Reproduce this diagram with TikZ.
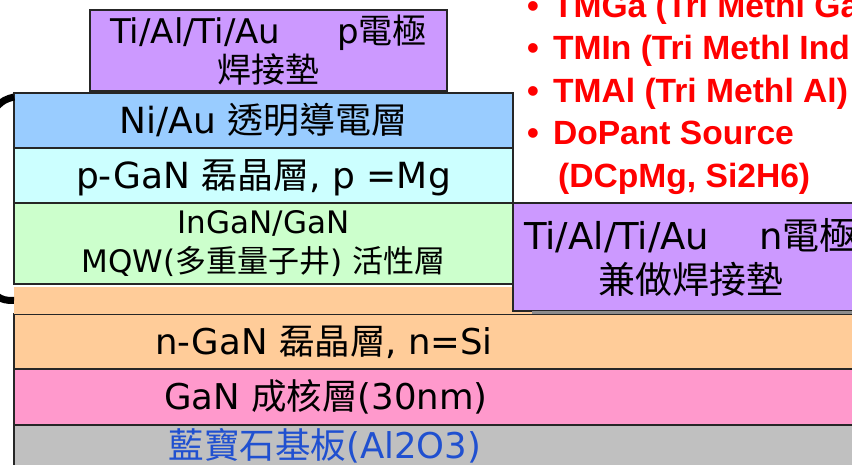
\documentclass[tikz,border=0pt]{standalone}
\usepackage{fontspec}
\setmainfont{DejaVu Sans}
\newfontfamily\cjk{Noto Sans CJK TC}
\newfontfamily\srcfont{Liberation Sans}
\usepackage{tikz}
\usetikzlibrary{positioning}
\usepackage{xcolor}
\definecolor{padviolet}{HTML}{CC99FF}
\definecolor{nialayer}{HTML}{99CCFF}
\definecolor{pganlayer}{HTML}{CCFFFF}
\definecolor{mqwlayer}{HTML}{CCFFCC}
\definecolor{nganlayer}{HTML}{FFCC99}
\definecolor{nuclayer}{HTML}{FF99CC}
\definecolor{sublayer}{HTML}{C0C0C0}
\definecolor{subtext}{HTML}{2050D0}
\definecolor{srcred}{HTML}{FF0000}

\begin{document}
\begin{tikzpicture}[x=1pt,y=1pt,node distance=0pt,
  layer/.style={rectangle,draw=black!85,line width=1.5pt,inner sep=0pt,outer sep=0pt},
  oneline/.style={text height=28.5pt,text depth=2.9pt},
  lbl/.style={inner sep=0pt,oneline,font=\fontsize{35.5}{40}\selectfont},
  src/.style={inner sep=0pt,anchor=base west,text=srcred,font=\srcfont\bfseries\fontsize{33.6}{40}\selectfont}]

  \useasboundingbox (0,0) rectangle (852,464);

  % wafer stack, bottom up
  \node[layer,fill=sublayer,minimum width=856pt,minimum height=42pt] (sub) at (442,18) {};
  \node[layer,fill=nuclayer,minimum width=856pt,minimum height=56pt,above=of sub] (nuc) {};
  \node[layer,fill=nganlayer,minimum width=856pt,minimum height=55pt,above=of nuc] (ngan) {};
  \node[rectangle,fill=nganlayer,inner sep=0pt,outer sep=0pt,minimum width=518pt,minimum height=27pt,
    above right=0pt and 0pt of ngan.north west] (mesa) {};
  \node[layer,fill=mqwlayer,minimum width=499pt,minimum height=81pt,align=center,
    font=\fontsize{31}{39}\selectfont,above right=3pt and 0pt of mesa.north west] (mqw)
    {InGaN/GaN\\MQW({\cjk 多重量子井}) {\cjk 活性層}};
  \node[layer,fill=pganlayer,minimum width=499pt,minimum height=55pt,oneline,
    font=\fontsize{36}{40}\selectfont,above=of mqw] (pgan) {p-GaN {\cjk 磊晶層}, p =Mg};
  \node[layer,fill=nialayer,minimum width=499pt,minimum height=55pt,oneline,
    font=\fontsize{36}{40}\selectfont,above=of pgan] (nia) {Ni/Au {\cjk 透明導電層}};

  % electrodes
  \node[layer,fill=padviolet,minimum width=357pt,minimum height=81pt,align=center,
    font=\fontsize{34}{39}\selectfont,above right=2pt and 76pt of nia.north west] (pel)
    {Ti/Al/Ti/Au\hspace{57pt}p{\cjk 電極}\\{\cjk 焊接墊}};
  \node[layer,fill=padviolet,minimum width=355pt,minimum height=108pt,align=center,
    font=\fontsize{37}{44}\selectfont,below right=0pt and 0pt of mqw.north east] (nel)
    {Ti/Al/Ti/Au\hspace{50pt}n{\cjk 電極}\\{\cjk 兼做焊接墊}};
  \fill[black!45] (mesa.south east) rectangle (nel.south east);

  % layer names
  \node[lbl] (ngantxt) at ([xshift=310pt]ngan.west) {n-GaN {\cjk 磊晶層}, n=Si};
  \node[lbl] (nuctxt) at ([xshift=312pt]nuc.west) {GaN {\cjk 成核層}(30nm)};
  \node[lbl,text=subtext] (subtxt) at ([xshift=311pt]sub.west) {{\cjk 藍寶石基板}(Al2O3)};

  % bracket on the left
  \draw[line width=7pt] ([yshift=-4pt]nia.north west) .. controls (0,364) and (-8,356) .. (-11,336)
    -- (-11,185) .. controls (-8,168) and (0,163) .. (mesa.west);

  % precursor list
  \node[src] (tmga) at (527,446.5) {•\hspace{.42em}TMGa (Tri Methl Ga)};
  \node[src] (tmin) at ([yshift=-42.5pt]tmga.base west) {•\hspace{.42em}TMIn (Tri Methl Indium)};
  \node[src] (tmal) at ([yshift=-42.5pt]tmin.base west) {•\hspace{.42em}TMAl (Tri Methl Al)};
  \node[src] (dop) at ([yshift=-42.5pt]tmal.base west) {•\hspace{.42em}DoPant Source};
  \node[src] (dopsrc) at ([xshift=31pt,yshift=-42.5pt]dop.base west) {(DCpMg, Si2H6)};
\end{tikzpicture}
\end{document}
